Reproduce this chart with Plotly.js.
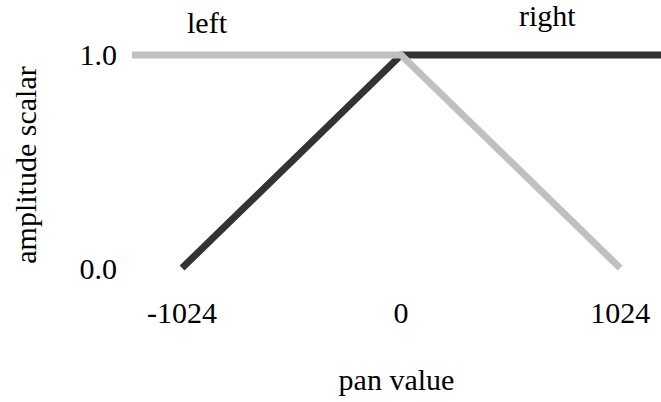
<!DOCTYPE html>
<html>
<head>
<meta charset="utf-8">
<script src="https://cdn.plot.ly/plotly-3.0.1.min.js"></script>
<style>html,body{margin:0;padding:0;background:#fff;}#chart{width:661px;height:402px;}</style>
</head>
<body>
<div id="chart"></div>
<script>
// Data
const panLeftX = [-1260, 0, 1024];
const ampLeft = [1.0, 1.0, 0.0];
const panRightX = [-1024, 0, 1260];
const ampRight = [0.0, 1.0, 1.0];
const xTickVals = [-1024, 0, 1024];
const xTickText = ['-1024', '0', '1024'];
const yTickVals = [0.0, 1.0];
const yTickText = ['0.0', '1.0'];
const seriesNames = ['right', 'left'];

const FONT = 'Liberation Serif, Times New Roman, serif';
const FS = 30;

const traces = [
  {x: panRightX, y: ampRight, name: seriesNames[0], mode: 'lines', line: {color: '#333333', width: 7}},
  {x: panLeftX, y: ampLeft, name: seriesNames[1], mode: 'lines', line: {color: '#c0c0c0', width: 7}}
];

const layout = {
  width: 661, height: 402,
  margin: {l: 132, r: 0, t: 40, b: 112},
  paper_bgcolor: '#fff', plot_bgcolor: '#fff',
  showlegend: false,
  font: {family: FONT, size: FS, color: '#000'},
  xaxis: {
    range: [-1258, 1215], tickvals: xTickVals, ticktext: xTickText,
    showgrid: false, zeroline: false, showline: false, ticks: '',
    ticklabelstandoff: 2,
    title: {text: 'pan value', standoff: 40, font: {family: FONT, size: FS}}
  },
  yaxis: {
    range: [-0.103, 1.07], tickvals: yTickVals, ticktext: yTickText,
    showgrid: false, zeroline: false, showline: false, ticks: '',
    ticklabelstandoff: 14,
    title: {text: 'amplitude scalar', standoff: 34, font: {family: FONT, size: FS}}
  },
  annotations: [
    {x: 0.142, y: 1.07, xref: 'paper', yref: 'paper', xanchor: 'center', yanchor: 'middle', text: 'left', showarrow: false, font: {family: FONT, size: FS}},
    {x: 0.785, y: 1.096, xref: 'paper', yref: 'paper', xanchor: 'center', yanchor: 'middle', text: 'right', showarrow: false, font: {family: FONT, size: FS}}
  ]
};

Plotly.newPlot('chart', traces, layout, {displayModeBar: false, staticPlot: true});
</script>
</body>
</html>
